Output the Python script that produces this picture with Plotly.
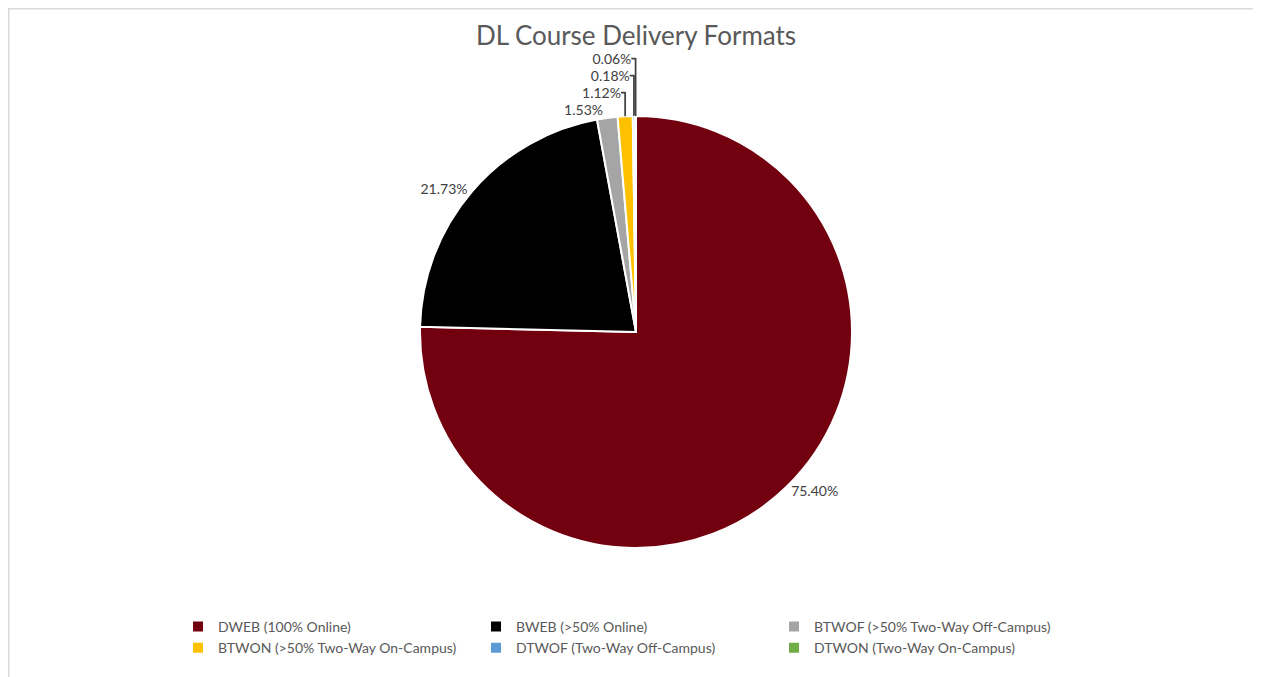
import plotly.graph_objects as go

# DL course delivery formats, share of courses (%)
labels = ['DWEB (100% Online)', 'BWEB (>50% Online)', 'BTWOF (>50% Two-Way Off-Campus)',
          'BTWON (>50% Two-Way On-Campus)', 'DTWOF (Two-Way Off-Campus)',
          'DTWON (Two-Way On-Campus)']
shares = [75.40, 21.73, 1.53, 1.12, 0.18, 0.06]
colors = ['#73000F', '#000000', '#A5A5A5', '#FFC000', '#5B9BD5', '#70AD47']

W, H = 1261, 677
R_MARGIN = 100          # keeps the legend at three entries per row
PW = W - R_MARGIN       # plot-area width (paper coordinates are relative to it)
# page body has an 8px margin, so positions are given in figure pixels
cx, cy, r = 628, 324, 216

fig = go.Figure(go.Pie(
    labels=labels,
    values=shares,
    sort=False,
    direction='clockwise',
    rotation=0,
    marker=dict(colors=colors, line=dict(color='white', width=2)),
    texttemplate='%{value:.2f}%',
    textposition='outside',
    outsidetextfont=dict(family='Lato, Carlito, sans-serif', size=14, color='#404040'),
    automargin=False,
    hoverinfo='label+value',
    domain=dict(x=[(cx - r) / PW, (cx + r) / PW], y=[1 - (cy + r) / H, 1 - (cy - r) / H]),
))

fig.update_layout(
    width=W, height=H,
    margin=dict(l=0, r=R_MARGIN, t=0, b=0),
    paper_bgcolor='white',
    font=dict(family='Lato, Carlito, sans-serif', color='#595959'),
    title=dict(text='DL Course Delivery Formats', x=cx / W, xanchor='center',
               y=1 - 28 / H, yanchor='middle', font=dict(size=26, color='#595959')),
    showlegend=True,
    legend=dict(orientation='h', x=170 / PW, xanchor='left', y=1 - 603 / H, yanchor='top',
                entrywidth=253, entrywidthmode='pixels',
                font=dict(size=14, color='#595959'), traceorder='normal'),
    shapes=[dict(type='rect', xref='paper', yref='paper',
                 x0=0.75 / PW, x1=1.2, y0=-0.05, y1=1 - 0.75 / H,
                 line=dict(color='#D9D9D9', width=1.5))],
)

fig.write_html('out.html')
